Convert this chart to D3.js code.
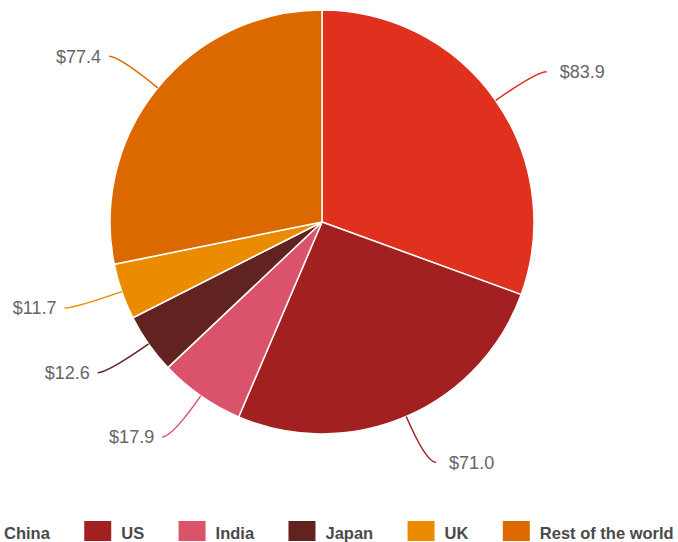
<!DOCTYPE html>
<html>
<head>
<meta charset="utf-8">
<script src="https://cdn.jsdelivr.net/npm/d3@7"></script>
<style>
  html, body { margin: 0; padding: 0; background: #fff; overflow: hidden; }
  svg { display: block; }
</style>
</head>
<body>
<svg id="chart" width="678" height="542"></svg>
<script>
const categories = ["China", "US", "India", "Japan", "UK", "Rest of the world"];
const values = [83.9, 71.0, 17.9, 12.6, 11.7, 77.4];
const colors = ["#e0301e", "#a32020", "#db536a", "#602320", "#eb8c00", "#dc6900"];

const data = categories.map((c, i) => ({ name: c, value: values[i], color: colors[i] }));

const svg = d3.select("#chart");
const cx = 322, cy = 222, R = 212;

const pie = d3.pie().sort(null).value(d => d.value);
const arcs = pie(data);
const arc = d3.arc().innerRadius(0).outerRadius(R);

const g = svg.append("g").attr("transform", `translate(${cx},${cy})`);

g.selectAll("path.slice")
  .data(arcs)
  .join("path")
  .attr("class", "slice")
  .attr("d", arc)
  .attr("fill", d => d.data.color)
  .attr("stroke", "#fff")
  .attr("stroke-width", 1.5);

function pt(a, r) { return [Math.sin(a) * r, -Math.cos(a) * r]; }
arcs.forEach(d => {
  const mid = (d.startAngle + d.endAngle) / 2;
  const p0 = pt(mid, R);
  const p1 = pt(mid, 262);
  const right = Math.sin(mid) >= 0;
  const p2 = [p1[0] + (right ? 10 : -10), p1[1]];
  g.append("path")
    .attr("d", `M${p0[0]},${p0[1]} Q${p1[0]},${p1[1]} ${p2[0]},${p2[1]}`)
    .attr("fill", "none")
    .attr("stroke", d.data.color)
    .attr("stroke-width", 1.5);
  g.append("text")
    .attr("x", p2[0] + (right ? 13 : -8))
    .attr("y", p2[1])
    .attr("dy", "0.35em")
    .attr("text-anchor", right ? "start" : "end")
    .attr("font-family", "Liberation Sans, Arial, sans-serif")
    .attr("font-size", 18)
    .attr("fill", "#666")
    .text("$" + d.data.value.toFixed(1));
});

const legend = svg.append("g");
let x = -33;
const sw = 27, sh = 20, ly = 521;
data.forEach(d => {
  legend.append("rect")
    .attr("x", x).attr("y", ly)
    .attr("width", sw).attr("height", sh)
    .attr("fill", d.color);
  const t = legend.append("text")
    .attr("x", x + sw + 10)
    .attr("y", ly + sh / 2 + 2)
    .attr("dy", "0.35em")
    .attr("font-family", "Liberation Sans, Arial, sans-serif")
    .attr("font-weight", "bold")
    .attr("font-size", 16.5)
    .attr("fill", "#4a4a4a")
    .text(d.name);
  x += sw + 10 + t.node().getComputedTextLength() + 34.4;
});
</script>
</body>
</html>
